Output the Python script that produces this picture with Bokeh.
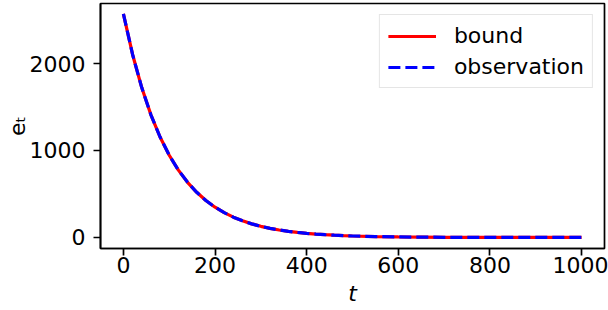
from bokeh.plotting import figure
from bokeh.models import Range1d, FixedTicker
from bokeh.embed import file_html
from bokeh.resources import INLINE

# data
t_vals = [0, 20, 40, 60, 80, 100, 120, 140, 160, 180, 200, 220, 240, 260, 280,
          300, 320, 340, 360, 380, 400, 420, 440, 460, 480, 500, 550, 600, 650,
          700, 750, 800, 850, 900, 950, 1000]
bound_vals = [2570, 2104, 1723, 1410, 1155, 945, 774, 634, 519, 425, 348, 285,
              233, 191, 156, 128, 105, 86, 70, 58, 47, 39, 32, 26, 21, 17, 10,
              6, 4, 2, 1, 1, 0, 0, 0, 0]
obs_vals = [2570, 2104, 1723, 1410, 1155, 945, 774, 634, 519, 425, 348, 285,
            233, 191, 156, 128, 105, 86, 70, 58, 47, 39, 32, 26, 21, 17, 10,
            6, 4, 2, 1, 1, 0, 0, 0, 0]
x_ticks = [0, 200, 400, 600, 800, 1000]
y_ticks = [0, 1000, 2000]

FONT = "DejaVu Sans"
FS = "22px"

p = figure(width=608, height=310, output_backend="svg", toolbar_location=None,
           x_range=Range1d(-50, 1050), y_range=Range1d(-127, 2690),
           min_border_left=100, min_border_right=4, min_border_top=3,
           min_border_bottom=62)

p.line(t_vals, bound_vals, line_color="#ff0000", line_width=3.2,
       legend_label="bound")
p.line(t_vals, obs_vals, line_color="#0000ff", line_width=3.2,
       line_dash="12 5", legend_label="observation")

p.xgrid.visible = False
p.ygrid.visible = False
p.outline_line_color = "black"
p.outline_line_width = 1.7
p.outline_line_alpha = 1.0
p.background_fill_color = "white"
p.border_fill_color = "white"

p.xaxis.ticker = FixedTicker(ticks=x_ticks)
p.yaxis.ticker = FixedTicker(ticks=y_ticks)
for ax in (p.xaxis, p.yaxis):
    ax.major_label_text_font = FONT
    ax.major_label_text_font_size = FS
    ax.major_label_text_color = "black"
    ax.major_tick_out = 7
    ax.major_tick_in = 0
    ax.minor_tick_out = 0
    ax.minor_tick_in = 0
    ax.major_tick_line_width = 1.7
    ax.major_tick_line_color = "black"
    ax.axis_line_color = "black"
    ax.axis_line_width = 1.7
    ax.axis_label_text_font = FONT
    ax.axis_label_text_font_size = FS
    ax.axis_label_text_color = "black"

p.xaxis.major_label_standoff = 1
p.yaxis.major_label_standoff = 8

p.xaxis.axis_label = "t"
p.xaxis.axis_label_text_font_style = "italic"
p.xaxis.axis_label_standoff = 5

p.yaxis.axis_label = "e\u209c"
p.yaxis.axis_label_text_font_style = "normal"
p.yaxis.axis_label_orientation = "parallel"
p.yaxis.axis_label_standoff = -3
p.yaxis.axis_label_text_baseline = "bottom"

lg = p.legend[0]
lg.location = "top_right"
lg.margin = 11
lg.padding = 8
lg.spacing = 6
lg.glyph_width = 48
lg.glyph_height = 24
lg.label_height = 24
lg.label_standoff = 18
lg.label_text_font = FONT
lg.label_text_font_size = FS
lg.label_text_color = "black"
lg.border_line_color = "#cccccc"
lg.border_line_width = 1.7
lg.background_fill_color = "white"
lg.background_fill_alpha = 0.8

open("out.html", "w").write(file_html(p, INLINE))
